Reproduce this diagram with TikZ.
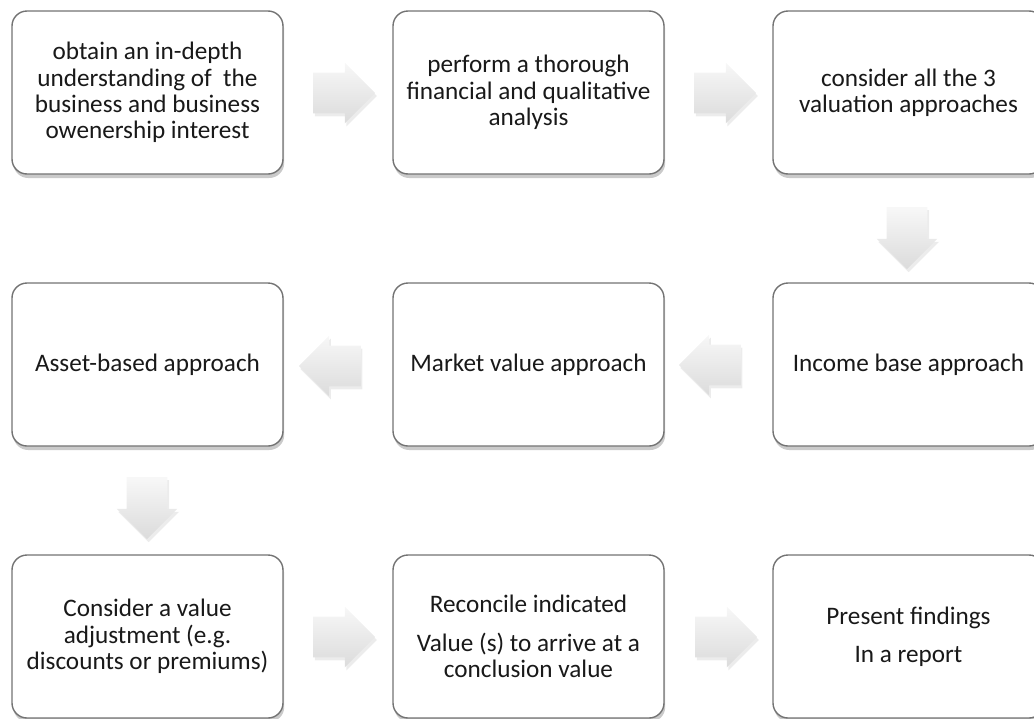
\documentclass[tikz,border=0pt]{standalone}
\usepackage{fontspec}
\setmainfont{Carlito}
\usetikzlibrary{shapes.arrows,shadows}

\tikzset{
        box/.style = {rectangle, rounded corners=7.5pt, draw=black!55, line width=0.7pt, fill=white, minimum width=135.5pt, minimum height=81.5pt, align=center, inner sep=2pt,
                drop shadow={shadow xshift=0.6pt, shadow yshift=-2pt, opacity=0.35, fill=black!60}},
        arr/.style = {single arrow, draw=none, inner sep=10pt, single arrow head extend=5pt, minimum height=31pt,
                top color=black!3, bottom color=black!14,
                drop shadow={shadow xshift=0.8pt, shadow yshift=-1.5pt, opacity=0.15, fill=black!50}}
    }

\begin{document}
\begin{tikzpicture}[x=0.5pt,y=-0.5pt,every node/.style={font=\fontsize{12.6}{13.2}\selectfont,text=black!90}]
            \useasboundingbox (0,0) rectangle (1034,718);

            \node[box] (b1) at (147.5, 92.5) {obtain an in-depth\\understanding of \ the\\business and business\\owenership interest};
            \node[box] (b2) at (528.5, 92.5) {perform a thorough\\financial and qualitative\\analysis};
            \node[box] (b3) at (908.5, 92.5) {consider all the 3\\valuation approaches};

            \node[box] (b4) at (908.5, 364.5) {Income base approach};
            \node[box] (b5) at (528.5, 364.5) {Market value approach};
            \node[box] (b6) at (147.5, 364.5) {Asset-based approach};

            \node[box] (b7) at (147.5, 636.5) {Consider a value\\adjustment (e.g.\\discounts or premiums)};
            \node[box] (b8) at (528.5, 636.5) {Reconcile indicated\\[6pt]Value (s) to arrive at a\\conclusion value};
            \node[box] (b9) at (908.5, 636.5) {Present findings\\[6pt]In a report};

            \node[arr] (a1) at (334, 93) {};
            \node[arr] (a2) at (715, 93) {};
            \node[arr,shape border rotate=270] (a3) at (907, 228) {};
            \node[arr,shape border rotate=180] (a4) at (720, 365) {};
            \node[arr,shape border rotate=180] (a5) at (340, 366) {};
            \node[arr,shape border rotate=270] (a6) at (147, 498) {};
            \node[arr] (a7) at (334, 637) {};
            \node[arr] (a8) at (716, 637) {};
        \end{tikzpicture}
\end{document}
